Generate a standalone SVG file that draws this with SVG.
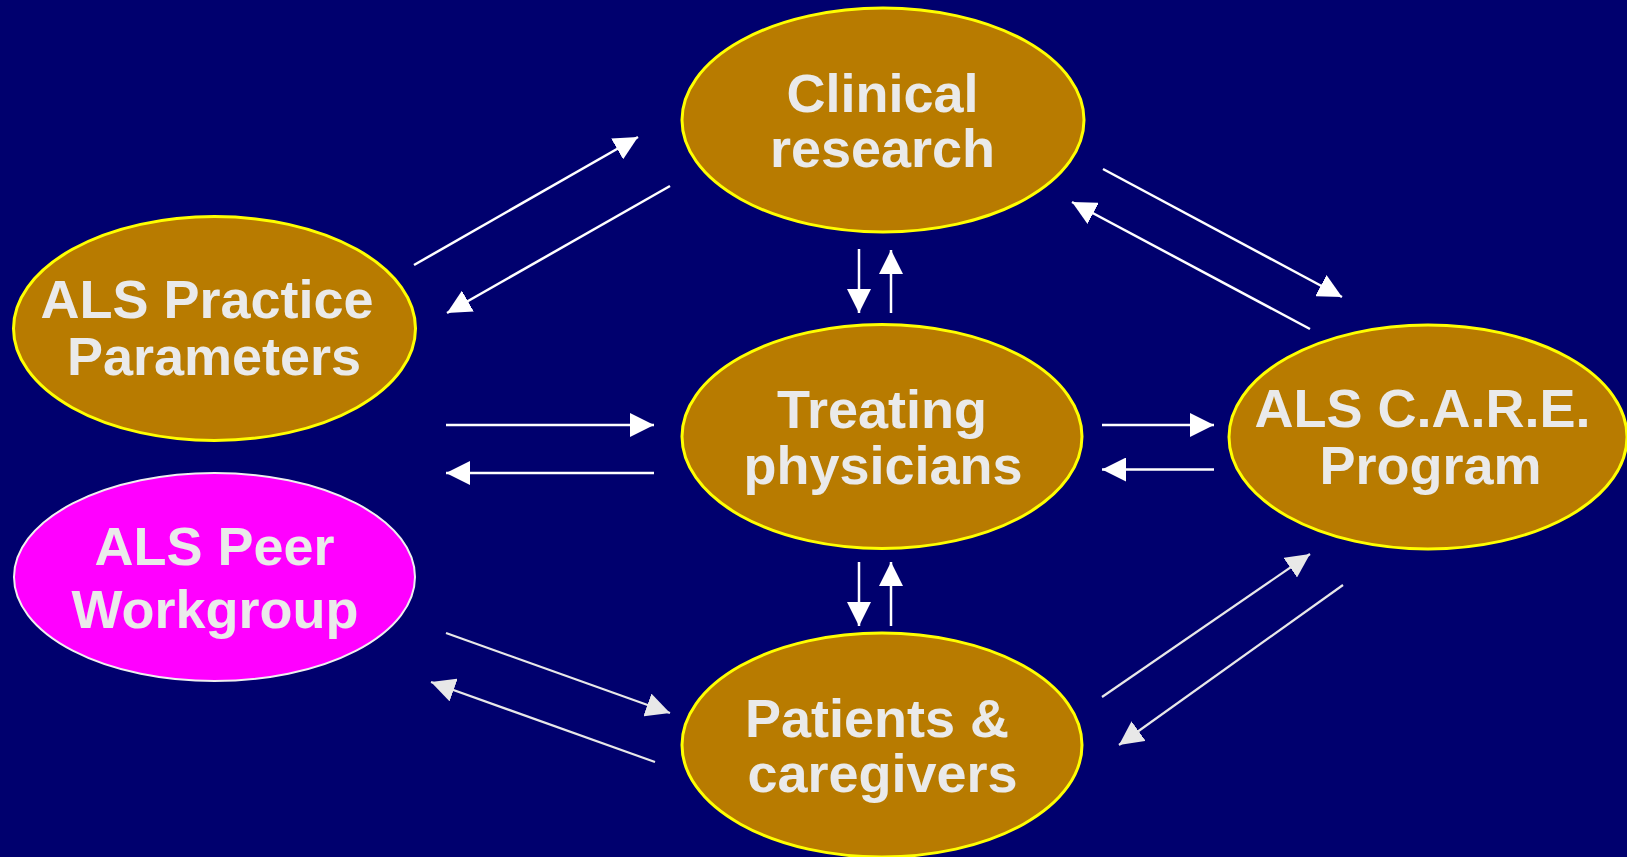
<svg xmlns="http://www.w3.org/2000/svg" width="1627" height="857" viewBox="0 0 1627 857">
  <defs>
    <marker id="head" markerUnits="userSpaceOnUse" markerWidth="24" markerHeight="24" viewBox="0 0 22 22" refX="22" refY="11" orient="auto">
      <path d="M0,0 L22,11 L0,22 Z" fill="#FFFFFF"/>
    </marker>
    <marker id="headGrey" markerUnits="userSpaceOnUse" markerWidth="24" markerHeight="24" viewBox="0 0 22 22" refX="22" refY="11" orient="auto">
      <path d="M0,0 L22,11 L0,22 Z" fill="#E8E8E8"/>
    </marker>
  </defs>
  <style>
    .node { fill: #B87B00; stroke: #FFFF00; stroke-width: 3; }
    .peer { fill: #FF00FF; stroke: #F0F0F0; stroke-width: 2; }
    .label { font-family: "Liberation Sans", Arial, sans-serif; font-weight: bold; font-size: 54px; fill: #EAEAEA; text-anchor: middle; }
    .link { stroke: #FFFFFF; stroke-width: 2.5; fill: none; marker-end: url(#head); }
    .linkGrey { stroke: #E8E8E8; stroke-width: 2.2; fill: none; marker-end: url(#headGrey); }
  </style>

  <rect x="0" y="0" width="1627" height="857" fill="#00006E"/>

  <g id="connectors">
    <!-- Practice Parameters <-> Clinical research -->
    <line class="link" x1="414" y1="265" x2="638" y2="137"/>
    <line class="link" x1="670" y1="186" x2="447" y2="313"/>
    <!-- Clinical research <-> C.A.R.E. -->
    <line class="link" x1="1103" y1="169" x2="1342" y2="297"/>
    <line class="link" x1="1310" y1="329" x2="1072" y2="202"/>
    <!-- Clinical research <-> Treating physicians -->
    <line class="link" x1="859" y1="249" x2="859" y2="313"/>
    <line class="link" x1="891" y1="313" x2="891" y2="250"/>
    <!-- Practice Parameters <-> Treating physicians -->
    <line class="link" x1="446" y1="425" x2="654" y2="425"/>
    <line class="link" x1="654" y1="473" x2="446" y2="473"/>
    <!-- Treating physicians <-> C.A.R.E. -->
    <line class="link" x1="1102" y1="425" x2="1214" y2="425"/>
    <line class="link" x1="1214" y1="469.5" x2="1102" y2="469.5"/>
    <!-- Treating physicians <-> Patients -->
    <line class="link" x1="859" y1="562" x2="859" y2="626"/>
    <line class="link" x1="891" y1="626" x2="891" y2="562"/>
    <!-- Peer Workgroup <-> Patients -->
    <line class="linkGrey" x1="446" y1="633" x2="670" y2="713"/>
    <line class="linkGrey" x1="655" y1="762" x2="431" y2="682"/>
    <!-- Patients <-> C.A.R.E. -->
    <line class="linkGrey" x1="1102" y1="697" x2="1310" y2="554"/>
    <line class="linkGrey" x1="1343" y1="585" x2="1119" y2="745"/>
  </g>

  <g id="practice-parameters">
    <ellipse class="node" cx="214.5" cy="328.5" rx="201" ry="112"/>
    <text class="label" x="207" y="318">ALS Practice</text>
    <text class="label" x="214" y="375">Parameters</text>
  </g>

  <g id="peer-workgroup">
    <ellipse class="peer" cx="214.5" cy="577" rx="200.5" ry="104"/>
    <text class="label" x="214.5" y="565">ALS Peer</text>
    <text class="label" x="215" y="628">Workgroup</text>
  </g>

  <g id="clinical-research">
    <ellipse class="node" cx="883" cy="120" rx="201" ry="112"/>
    <text class="label" x="882.5" y="112">Clinical</text>
    <text class="label" x="882.5" y="167">research</text>
  </g>

  <g id="treating-physicians">
    <ellipse class="node" cx="882" cy="436.5" rx="200" ry="112"/>
    <text class="label" x="882" y="428">Treating</text>
    <text class="label" x="883" y="484">physicians</text>
  </g>

  <g id="patients-caregivers">
    <ellipse class="node" cx="882" cy="745" rx="200" ry="112"/>
    <text class="label" x="877" y="737">Patients &amp;</text>
    <text class="label" x="882.5" y="792">caregivers</text>
  </g>

  <g id="care-program">
    <ellipse class="node" cx="1428" cy="437" rx="199" ry="112"/>
    <text class="label" x="1422.5" y="427">ALS C.A.R.E.</text>
    <text class="label" x="1430.5" y="484">Program</text>
  </g>
</svg>
